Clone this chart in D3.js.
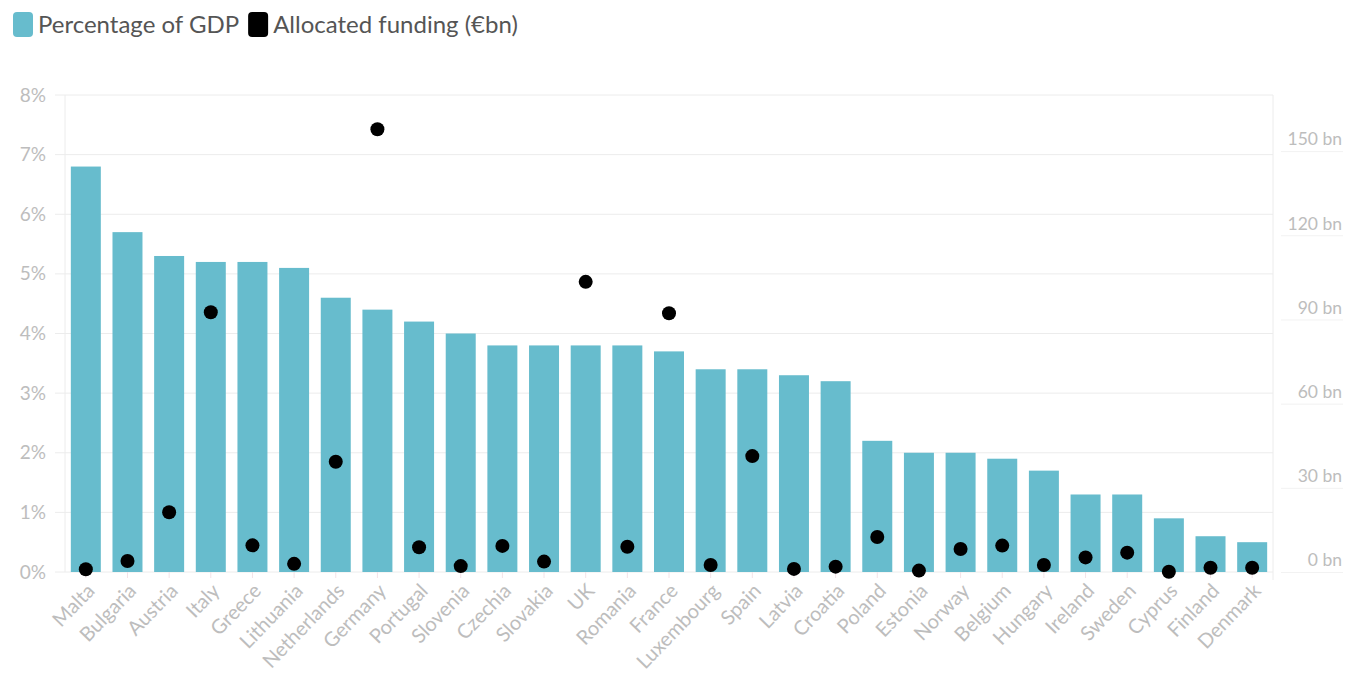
<!DOCTYPE html>
<html><head><meta charset="utf-8">
<script src="https://cdn.jsdelivr.net/npm/d3@7"></script>
<style>
body{margin:0;background:#fff;}
svg{display:block;font-family:Lato,"Open Sans",sans-serif;}
</style></head><body>
<svg id="c" width="1346" height="686"></svg>
<script>
const countries = ["Malta","Bulgaria","Austria","Italy","Greece","Lithuania","Netherlands","Germany","Portugal","Slovenia","Czechia","Slovakia","UK","Romania","France","Luxembourg","Spain","Latvia","Croatia","Poland","Estonia","Norway","Belgium","Hungary","Ireland","Sweden","Cyprus","Finland","Denmark"];
const gdpPct = [6.8,5.7,5.3,5.2,5.2,5.1,4.6,4.4,4.2,4.0,3.8,3.8,3.8,3.8,3.7,3.4,3.4,3.3,3.2,2.2,2.0,2.0,1.9,1.7,1.3,1.3,0.9,0.6,0.5];
const funding = [1.0,3.9,21.3,92.6,9.5,2.9,39.3,157.8,8.8,2.1,9.3,3.7,103.4,9.0,92.2,2.5,41.3,1.1,1.9,12.5,0.5,8.2,9.4,2.5,5.2,6.9,0.1,1.5,1.5];
const leftTicks = [0,1,2,3,4,5,6,7,8];
const rightTicks = [0,30,60,90,120,150];
const legendItems = [{label:"Percentage of GDP",color:"#67bccd"},{label:"Allocated funding (€bn)",color:"#000"}];

const svg = d3.select("#c");
const L = 65, R = 1273, T = 95, B = 572;
const x = d3.scaleBand().domain(countries).range([L,R]).paddingInner(0.28).paddingOuter(0.14);
const yL = d3.scaleLinear().domain([0,8]).range([B,T]);
const yR = d3.scaleLinear().domain([0,170]).range([B,T]);

// gridlines
svg.append("g").selectAll("line").data(leftTicks).join("line")
  .attr("x1",L-10).attr("x2",R).attr("y1",d=>yL(d)).attr("y2",d=>yL(d))
  .attr("stroke","#ececec").attr("stroke-width",1);
// vertical axis lines
svg.append("line").attr("x1",L).attr("x2",L).attr("y1",T).attr("y2",B).attr("stroke","#ececec");
svg.append("line").attr("x1",R).attr("x2",R).attr("y1",T).attr("y2",B+8).attr("stroke","#ececec");

// left axis
const axL = svg.append("g").attr("transform",`translate(${L},0)`)
  .call(d3.axisLeft(yL).tickValues(leftTicks).tickFormat(d=>d+"%").tickSize(0).tickPadding(19));
axL.select(".domain").remove();
axL.selectAll("text").attr("fill","#bdbdbd").style("font-size","19px").style("font-family","Lato,'Open Sans',sans-serif");

// right axis
const axR = svg.append("g").attr("transform",`translate(${R},0)`)
  .call(d3.axisRight(yR).tickValues(rightTicks).tickFormat(d=>d+" bn").tickSize(0).tickPadding(0));
axR.select(".domain").remove();
axR.selectAll(".tick text").attr("x",69).attr("text-anchor","end").attr("dy","-0.35em")
  .attr("fill","#bdbdbd").style("font-size","17.5px").style("font-family","Lato,'Open Sans',sans-serif");
axR.selectAll(".tick").append("line").attr("x1",8).attr("x2",70).attr("y1",0).attr("y2",0).attr("stroke","#f2f2f2");

// bars
svg.append("g").selectAll("rect").data(countries).join("rect")
  .attr("x",d=>x(d)).attr("width",x.bandwidth())
  .attr("y",(d,i)=>yL(gdpPct[i])).attr("height",(d,i)=>B-yL(gdpPct[i]))
  .attr("fill","#67bccd");

// bottom ticks
svg.append("g").selectAll("line").data(countries).join("line")
  .attr("x1",d=>x(d)+x.bandwidth()/2).attr("x2",d=>x(d)+x.bandwidth()/2)
  .attr("y1",B).attr("y2",B+6).attr("stroke","#f3e3e8");

// dots
svg.append("g").selectAll("circle").data(countries).join("circle")
  .attr("cx",d=>x(d)+x.bandwidth()/2).attr("cy",(d,i)=>yR(funding[i]))
  .attr("r",7).attr("fill","#000");

// x labels
svg.append("g").selectAll("text").data(countries).join("text")
  .attr("transform",d=>`translate(${x(d)+x.bandwidth()/2+10},${B+20}) rotate(-46)`)
  .attr("text-anchor","end").attr("fill","#bdbdbd").style("font-size","20px")
  .text(d=>d);

// legend
const lg = svg.append("g");
let lx = 13;
legendItems.forEach(it=>{
  lg.append("rect").attr("x",lx).attr("y",12).attr("width",20).attr("height",25).attr("rx",4).attr("fill",it.color);
  const t = lg.append("text").attr("x",lx+25).attr("y",33).attr("fill","#555").style("font-size","24px").text(it.label);
  lx += 25 + t.node().getComputedTextLength() + 9;
});
</script>
</body></html>
